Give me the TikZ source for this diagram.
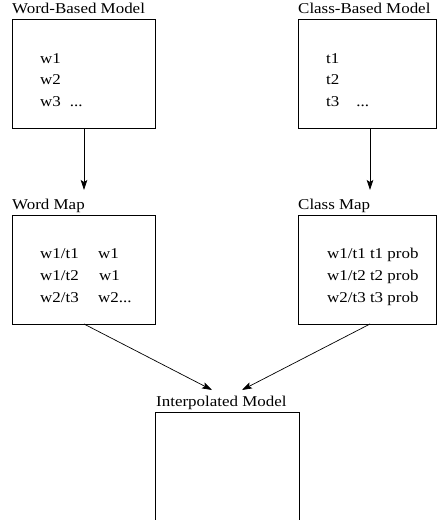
\documentclass[tikz,border=0pt]{standalone}
\usepackage{fontspec}
\setmainfont[FakeStretch=1.13]{Liberation Serif}
\usetikzlibrary{arrows.meta}
\begin{document}
\begin{tikzpicture}[x=1pt,y=-1pt,
  box/.style={draw,line width=0.8pt,inner sep=0pt},
  title/.style={anchor=base west,inner sep=0pt},
  txt/.style={anchor=base west,inner sep=0pt},
  conn/.style={line width=0.7pt,-{Stealth[length=10pt,width=6.5pt,inset=2pt]}},
  font=\fontsize{15}{18}\selectfont]
\useasboundingbox (0,0) rectangle (442,520);
\clip (0,0) rectangle (442,520);
% boxes
\draw[box] (12,19) rectangle (155,128);
\draw[box] (298,19) rectangle (436,128);
\draw[box] (12,215) rectangle (155,324);
\draw[box] (298,215) rectangle (436,324);
\draw[box] (155,412) rectangle (299,600);
\coordinate (b1s) at (84,128);
\coordinate (b2s) at (370,128);
\coordinate (b3n) at (84,190);
\coordinate (b4n) at (370,190);
\coordinate (b3s) at (84,324);
\coordinate (b4s) at (370,324);
\coordinate (b5l) at (212,390);
\coordinate (b5r) at (242,390);
% titles
\node[title] (t1) at (12,13) {Word-Based Model};
\node[title] (t2) at (298,13) {Class-Based Model};
\node[title] (t3) at (12,209) {Word Map};
\node[title] (t4) at (298,209) {Class Map};
\node[title] (t5) at (156,406) {Interpolated Model};
% box 1 text
\node[txt] (a1) at (40,63) {w1};
\node[txt] (a2) at (40,84.5) {w2};
\node[txt] (a3) at (40,106) {w3\hspace{9pt}...};
% box 2 text
\node[txt] (c1) at (326,63) {t1};
\node[txt] (c2) at (326,84.5) {t2};
\node[txt] (c3) at (326,106) {t3\hspace{17pt}...};
% box 3 text
\node[txt] (d1) at (40,258) {w1/t1};
\node[txt] (d1b) at (98,258) {w1};
\node[txt] (d2) at (40,280) {w1/t2};
\node[txt] (d2b) at (99,280) {w1};
\node[txt] (d3) at (40,302) {w2/t3};
\node[txt] (d3b) at (98,302) {w2...};
% box 4 text
\node[txt] (e1) at (327,258) {w1/t1 t1 prob};
\node[txt] (e2) at (327,280) {w1/t2 t2 prob};
\node[txt] (e3) at (327,302) {w2/t3 t3 prob};
% connectors
\draw[conn] (b1s) -- (b3n);
\draw[conn] (b2s) -- (b4n);
\draw[conn] (b3s) -- (b5l);
\draw[conn] (b4s) -- (b5r);
\end{tikzpicture}
\end{document}
